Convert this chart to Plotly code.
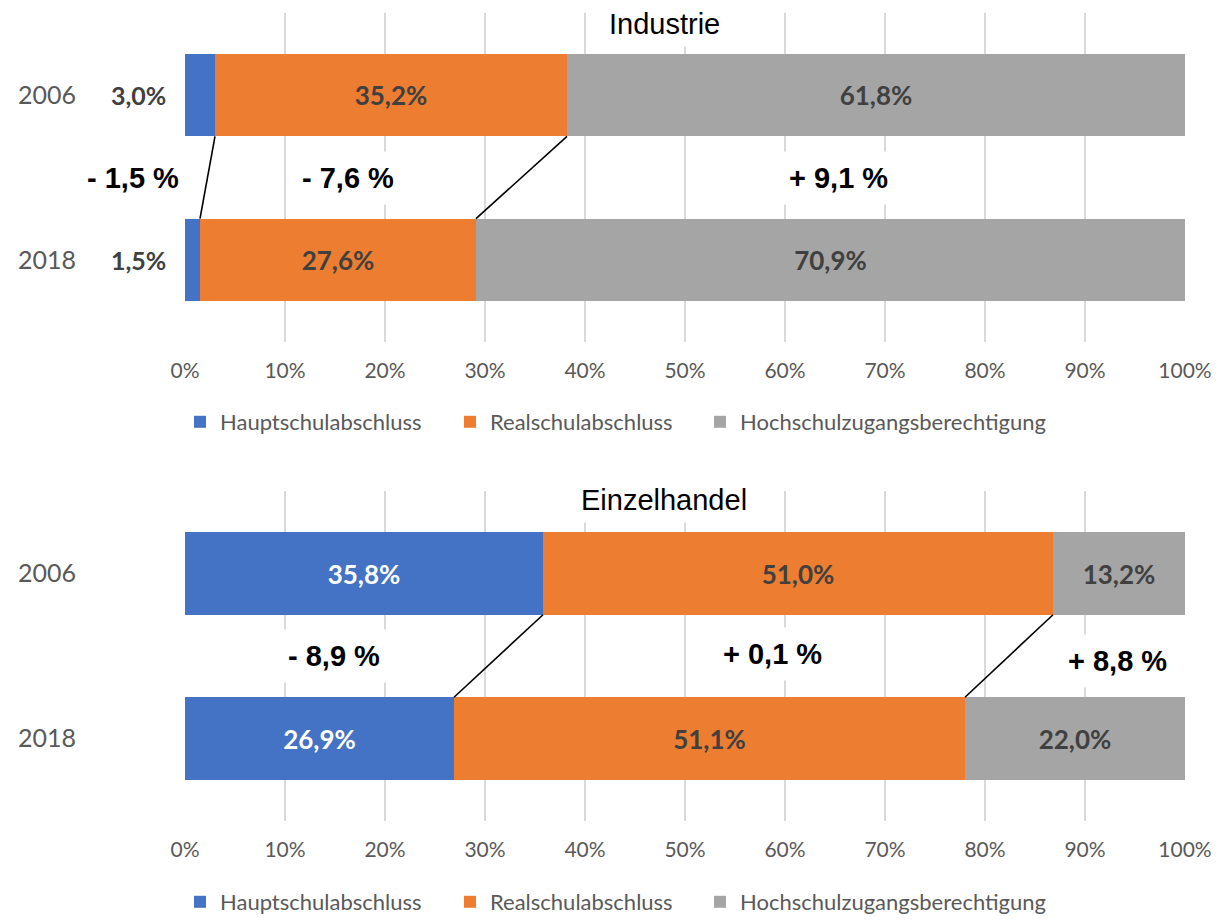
import plotly.graph_objects as go

# ---------------- data ----------------
years = ["2006", "2018"]
series_names = ["Hauptschulabschluss", "Realschulabschluss", "Hochschulzugangsberechtigung"]
series_colors = ["#4472C4", "#ED7D31", "#A5A5A5"]

ind_haupt = [3.0, 1.5]
ind_real = [35.2, 27.6]
ind_hoch = [61.8, 70.9]

ez_haupt = [35.8, 26.9]
ez_real = [51.0, 51.1]
ez_hoch = [13.2, 22.0]

x_tickvals = [0, 10, 20, 30, 40, 50, 60, 70, 80, 90, 100]
x_ticktext = ["0%", "10%", "20%", "30%", "40%", "50%", "60%", "70%", "80%", "90%", "100%"]

panel_titles = ["Industrie", "Einzelhandel"]

# ---------------- layout constants ----------------
# positions of change labels (in axis % units) and small vertical shifts
ind_change_label_x = [-5.2, 16.3, 65.3]
ez_change_label_x = [14.9, 58.7, 93.2]
ind_change_label_shift = [0, 0, 0]
ez_change_label_shift = [0, 2, -5]
legend_text_px = [220, 490, 740]   # screen x where each legend text starts

BAR_WIDTH = 0.5
LABEL_FONT = "Lato"
GRID = "#D9D9D9"
TXT = "#595959"
VAL = "#404040"

OFF = 8  # page body margin
W, H = 1229, 923
PLOT_L, PLOT_R = 185, 1185            # screen px
M_L = PLOT_L - OFF
M_R = W - (PLOT_R - OFF)
PW = W - M_L - M_R
M_T = 13 - OFF
M_B = H - (821 - OFF)
PH = H - M_T - M_B

ypos = list(range(len(years)))  # row index of each year


def py(screen_y):
    return (H - M_B - (screen_y - OFF)) / PH


def px(screen_x):
    return (screen_x - OFF - M_L) / PW


fig = go.Figure()

panels = [
    ("x", "y", ["legend", "legend2", "legend3"], [ind_haupt, ind_real, ind_hoch], [None, VAL, VAL]),
    ("x2", "y2", ["legend4", "legend5", "legend6"], [ez_haupt, ez_real, ez_hoch], ["white", VAL, VAL]),
]

for xa, ya, lgs, vals, tcolors in panels:
    for name, color, v, tc, lg in zip(series_names, series_colors, vals, tcolors, lgs):
        if tc is not None:
            kw = dict(texttemplate="%{x:.1f}%", textposition="inside",
                      insidetextanchor="middle", textangle=0,
                      textfont=dict(family=LABEL_FONT, size=26, color=tc, weight="bold"))
        else:
            kw = dict(textposition="none")
        fig.add_trace(go.Bar(
            y=ypos, x=v, name=name, orientation="h", width=BAR_WIDTH,
            marker=dict(color=color, line=dict(width=0)),
            xaxis=xa, yaxis=ya, legend=lg, hoverinfo="skip", **kw,
        ))

# outside labels for the small Industrie blue bars
for i, v in enumerate(ind_haupt):
    fig.add_annotation(
        x=0, y=ypos[i], xref="x", yref="y", xanchor="right", xshift=-17,
        text=f"{v:.1f}%".replace(".", ","), showarrow=False,
        font=dict(family=LABEL_FONT, size=25, color=VAL, weight="bold"),
    )


def cumsum(a):
    out, s = [], 0
    for x in a:
        s += x
        out.append(s)
    return out


half = BAR_WIDTH / 2
for xa, ya, vals in [("x", "y", [ind_haupt, ind_real, ind_hoch]),
                     ("x2", "y2", [ez_haupt, ez_real, ez_hoch])]:
    c06 = cumsum([v[0] for v in vals])
    c18 = cumsum([v[1] for v in vals])
    for k in range(2):
        fig.add_shape(type="line", xref=xa, yref=ya,
                      x0=c06[k], y0=ypos[0] + half, x1=c18[k], y1=ypos[1] - half,
                      line=dict(color="black", width=1.6), layer="above")


def change_text(a06, a18):
    d = round(a18 - a06, 1)
    sign = "+" if d >= 0 else "-"
    return f"{sign} {abs(d):.1f} %".replace(".", ",")


mid = (ypos[0] + ypos[1]) / 2
for ya, vals, xs, shifts in [
    ("y", [ind_haupt, ind_real, ind_hoch], ind_change_label_x, ind_change_label_shift),
    ("y2", [ez_haupt, ez_real, ez_hoch], ez_change_label_x, ez_change_label_shift),
]:
    for v, xpos, sh in zip(vals, xs, shifts):
        fig.add_annotation(
            x=xpos / 100.0, y=mid, xref="paper", yref=ya, yshift=sh,
            xanchor="center", yanchor="middle",
            text="<b>" + change_text(v[0], v[1]) + "</b>", showarrow=False,
            font=dict(family="Liberation Sans", size=29, color="black"),
            bgcolor="white", borderpad=10,
        )

# panel titles
for t, yp in zip(panel_titles, [py(24), py(500)]):
    fig.add_annotation(
        x=px(664), y=yp, xref="paper", yref="paper",
        text=t, showarrow=False, xanchor="center", yanchor="middle",
        font=dict(family="Liberation Sans", size=29, color="black"),
        bgcolor="white", borderpad=6,
    )

xaxis_common = dict(
    range=[0, 100], tickvals=x_tickvals, ticktext=x_ticktext,
    showgrid=True, gridcolor=GRID, gridwidth=1.5, zeroline=False,
    showline=False, ticks="", ticklabelstandoff=14, automargin=False,
    tickfont=dict(family=LABEL_FONT, size=21, color=TXT), fixedrange=True,
)
yaxis_common = dict(
    range=[ypos[-1] + 0.5, ypos[0] - 0.5], tickvals=ypos, ticktext=years,
    showgrid=False, zeroline=False, automargin=False,
    showline=False, ticks="", ticklabelstandoff=108,
    tickfont=dict(family=LABEL_FONT, size=25, color=TXT), fixedrange=True,
)

legend_common = dict(
    orientation="h", xanchor="left", yanchor="middle", traceorder="normal",
    font=dict(family=LABEL_FONT, size=22, color=TXT),
    bgcolor="rgba(0,0,0,0)", itemclick=False, itemdoubleclick=False,
)

legend_layout = {}
names = ["legend", "legend2", "legend3", "legend4", "legend5", "legend6"]
for j, nm in enumerate(names):
    ly = py(422) if j < 3 else py(902)
    lx = px(legend_text_px[j % 3] - 40)
    legend_layout[nm] = dict(x=lx, y=ly, **legend_common)

fig.update_layout(
    width=W, height=H,
    margin=dict(l=M_L, r=M_R, t=M_T, b=M_B, autoexpand=False),
    paper_bgcolor="white", plot_bgcolor="white",
    barmode="stack", separators=",.",
    showlegend=True,
    xaxis=dict(domain=[0, 1], anchor="y", **xaxis_common),
    yaxis=dict(domain=[py(342), py(13)], anchor="x", **yaxis_common),
    xaxis2=dict(domain=[0, 1], anchor="y2", **xaxis_common),
    yaxis2=dict(domain=[py(821), py(491)], anchor="x2", **yaxis_common),
    **legend_layout,
)

fig.write_html("out.html")
